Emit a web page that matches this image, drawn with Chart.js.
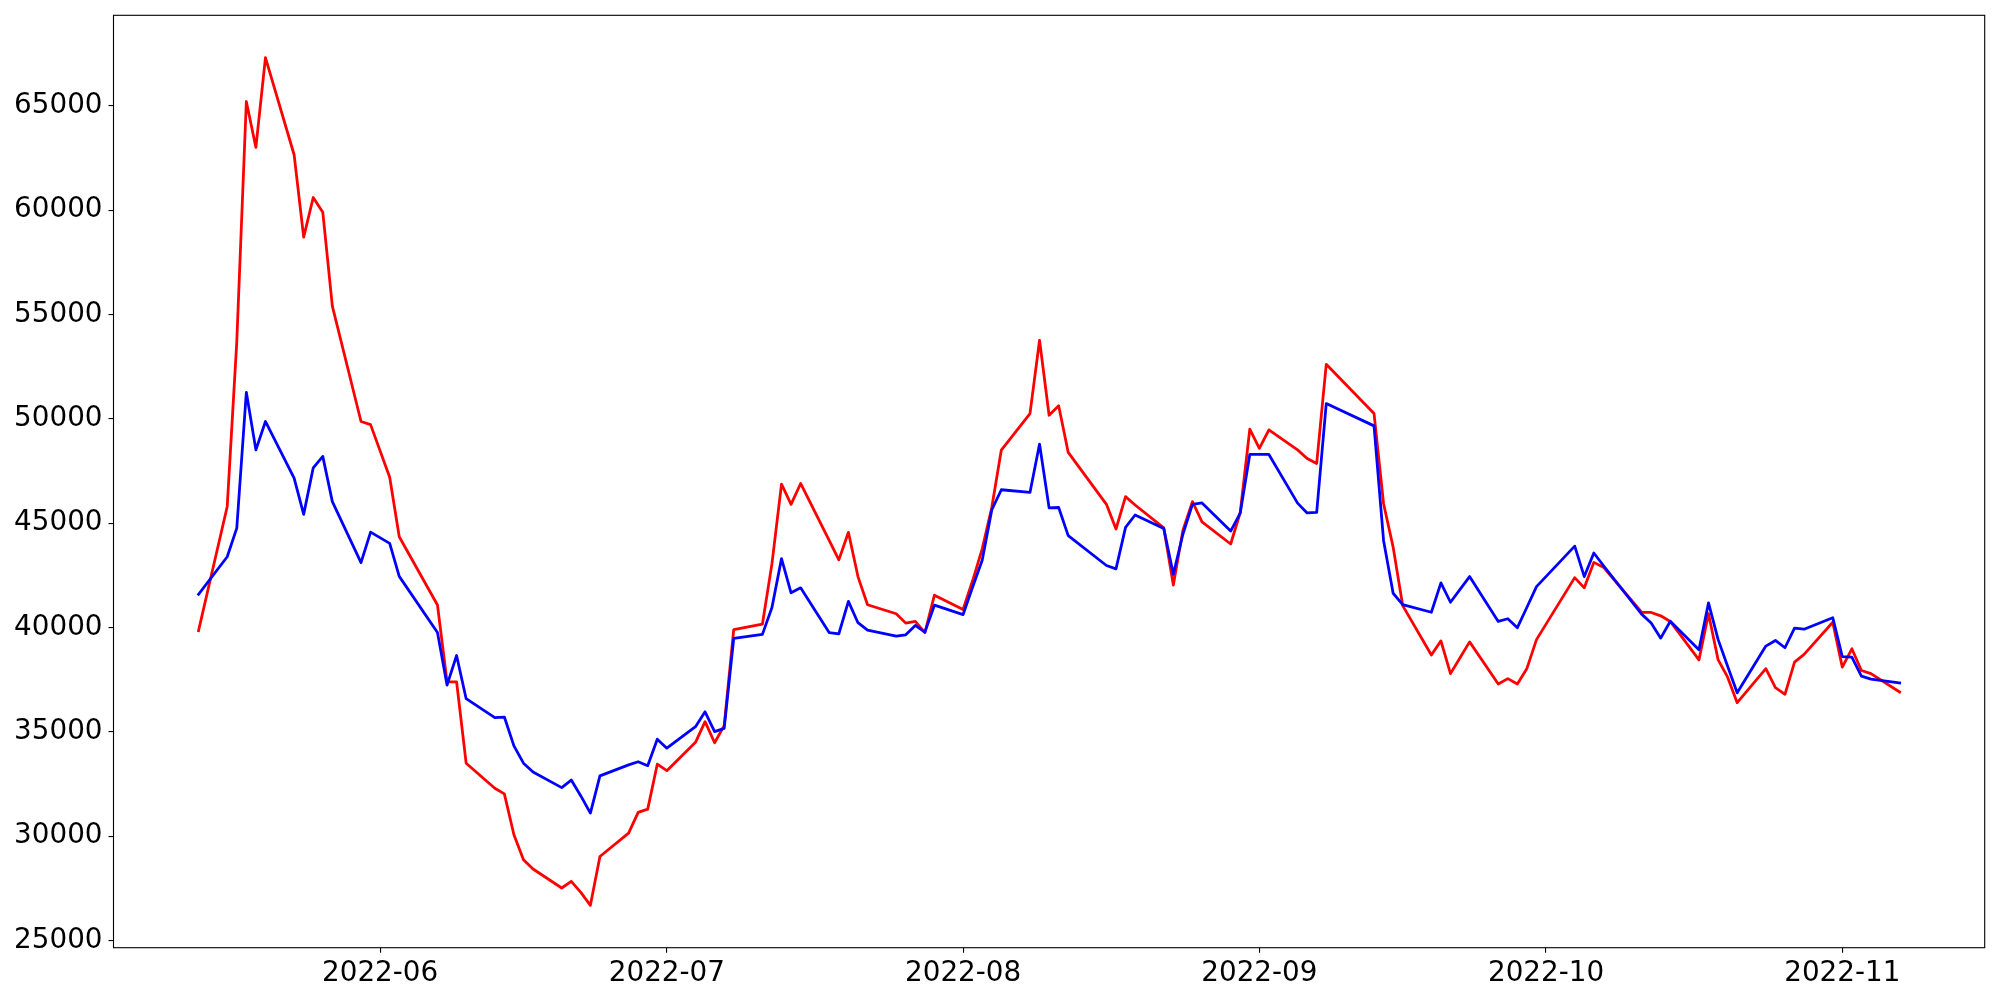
<!DOCTYPE html>
<html><head><meta charset="utf-8">
<script src="https://cdn.jsdelivr.net/npm/chart.js@4.4.0/dist/chart.umd.min.js"></script>
<style>html,body{margin:0;padding:0;background:#fff;}#wrap{width:2000px;height:1000px;}</style>
</head><body><div id="wrap"><canvas id="c" width="2000" height="1000"></canvas></div>
<script>
const dates = [
 '2022-05-13','2022-05-16','2022-05-17','2022-05-18','2022-05-19','2022-05-20','2022-05-23','2022-05-24','2022-05-25','2022-05-26','2022-05-27','2022-05-30','2022-05-31',
 '2022-06-02','2022-06-03','2022-06-07','2022-06-08','2022-06-09','2022-06-10','2022-06-13','2022-06-14','2022-06-15','2022-06-16','2022-06-17','2022-06-20','2022-06-21','2022-06-22','2022-06-23','2022-06-24','2022-06-27','2022-06-28','2022-06-29','2022-06-30',
 '2022-07-01','2022-07-04','2022-07-05','2022-07-06','2022-07-07','2022-07-08','2022-07-11','2022-07-12','2022-07-13','2022-07-14','2022-07-15','2022-07-18','2022-07-19','2022-07-20','2022-07-21','2022-07-22','2022-07-25','2022-07-26','2022-07-27','2022-07-28','2022-07-29',
 '2022-08-01','2022-08-02','2022-08-03','2022-08-04','2022-08-05','2022-08-08','2022-08-09','2022-08-10','2022-08-11','2022-08-12','2022-08-16','2022-08-17','2022-08-18','2022-08-19','2022-08-22','2022-08-23','2022-08-24','2022-08-25','2022-08-26','2022-08-29','2022-08-30','2022-08-31',
 '2022-09-01','2022-09-02','2022-09-05','2022-09-06','2022-09-07','2022-09-08','2022-09-13','2022-09-14','2022-09-15','2022-09-16','2022-09-19','2022-09-20','2022-09-21','2022-09-22','2022-09-23','2022-09-26','2022-09-27','2022-09-28','2022-09-29','2022-09-30',
 '2022-10-04','2022-10-05','2022-10-06','2022-10-07','2022-10-11','2022-10-12','2022-10-13','2022-10-14','2022-10-17','2022-10-18','2022-10-19','2022-10-20','2022-10-21','2022-10-24','2022-10-25','2022-10-26','2022-10-27','2022-10-28','2022-10-31',
 '2022-11-01','2022-11-02','2022-11-03','2022-11-04','2022-11-07'
];
const redValues = [
 39850,45800,53700,65200,63000,67300,62650,58700,60600,59900,55400,49870,49720,
 47200,44350,41080,37400,37400,33500,32300,32030,30070,28870,28430,27520,27840,27310,26690,29030,30150,31140,31300,33450,
 33140,34500,35490,34480,35300,39900,40160,43060,46870,45900,46900,44160,43240,44560,42440,41090,40660,40210,40290,39750,41550,
 40860,42250,43770,45750,48500,50250,53760,50170,50620,48390,45900,44720,46270,45870,44770,42030,44650,46030,45060,44000,45510,49500,
 48580,49470,48510,48100,47860,52610,50250,45930,43850,41050,38680,39360,37790,38550,39310,37290,37550,37290,38040,39420,
 42390,41900,43120,42890,40730,40720,40560,40290,38450,40660,38460,37620,36400,38030,37120,36800,38340,38710,40250,
 38100,38980,37940,37790,36910
];
const blueValues = [
 41590,43390,44760,51270,48510,49870,47160,45420,47650,48200,46030,43110,44570,
 44030,42450,39760,37240,38660,36590,35680,35710,34330,33500,33080,32330,32690,31930,31110,32890,33420,33570,33380,34650,
 34220,35250,35960,35010,35170,39480,39670,40960,43300,41660,41900,39750,39700,41250,40230,39870,39590,39650,40100,39780,41070,
 40620,41940,43220,45630,46600,46470,48790,45730,45750,44400,42970,42810,44800,45390,44740,42550,44470,45900,45970,44620,45480,48290,
 48290,48290,45960,45490,45520,50730,49660,44160,41640,41100,40730,42140,41210,41830,42440,40290,40420,39990,40970,41960,
 43900,42440,43570,42970,40640,40220,39490,40300,38935,41180,39430,38140,36870,39110,39380,39030,39970,39920,40470,
 38610,38580,37670,37530,37340
];
const xTickLabels = ['2022-06','2022-07','2022-08','2022-09','2022-10','2022-11'];
const yTickValues = [25000,30000,35000,40000,45000,50000,55000,60000,65000];

function dayOf(s){const p=s.split('-').map(Number);return Date.UTC(p[0],p[1]-1,p[2]||1)/86400000;}
const xs = dates.map(dayOf);
const xFirst = xs[0], xLast = xs[xs.length-1], xPad = (xLast-xFirst)*0.05;
const allVals = redValues.concat(blueValues);
const vMin = Math.min(...allVals), vMax = Math.max(...allVals), vPad = (vMax-vMin)*0.05;

const frame = {id:'frame', afterDatasetsDraw(chart){const {ctx,chartArea:a}=chart;ctx.save();ctx.strokeStyle='#000';ctx.lineWidth=1.1;ctx.strokeRect(a.left,a.top,a.right-a.left,a.bottom-a.top);ctx.restore();}};
const font = {family:'DejaVu Sans', size:27.8};

new Chart(document.getElementById('c'), {
  type:'line',
  data:{datasets:[
    {label:'blue', data: xs.map((x,i)=>({x, y: blueValues[i]})), borderColor:'#0000ff', borderWidth:2.78, borderJoinStyle:'round', borderCapStyle:'square', pointRadius:0, tension:0, fill:false, order:0},
    {label:'red', data: xs.map((x,i)=>({x, y: redValues[i]})), borderColor:'#ff0000', borderWidth:2.78, borderJoinStyle:'round', borderCapStyle:'square', pointRadius:0, tension:0, fill:false, order:1}
  ]},
  options:{
    responsive:false, animation:false, devicePixelRatio:1,
    layout:{padding:{top:15.3,right:15.3,left:0,bottom:0}},
    plugins:{legend:{display:false}, tooltip:{enabled:false}},
    scales:{
      x:{type:'linear', min:xFirst-xPad, max:xLast+xPad,
        afterBuildTicks:s=>{s.ticks=xTickLabels.map(l=>({value:dayOf(l+'-01')}));},
        afterFit:s=>{s.height=52.3;s.paddingLeft=0;s.paddingRight=0;},
        ticks:{callback:(v,i)=>xTickLabels[i], autoSkip:false, maxRotation:0, minRotation:0, font, color:'#000', padding:4},
        grid:{drawOnChartArea:false, drawTicks:true, tickLength:5, color:'#000', lineWidth:1.1},
        border:{display:false}},
      y:{type:'linear', min:vMin-vPad, max:vMax+vPad,
        afterBuildTicks:s=>{s.ticks=yTickValues.map(v=>({value:v}));},
        afterFit:s=>{s.width=113.5;s.paddingTop=0;s.paddingBottom=0;},
        ticks:{callback:v=>String(v), font, color:'#000', padding:6},
        grid:{drawOnChartArea:false, drawTicks:true, tickLength:5, color:'#000', lineWidth:1.1},
        border:{display:false}}
    }
  },
  plugins:[frame]
});
</script></body></html>
